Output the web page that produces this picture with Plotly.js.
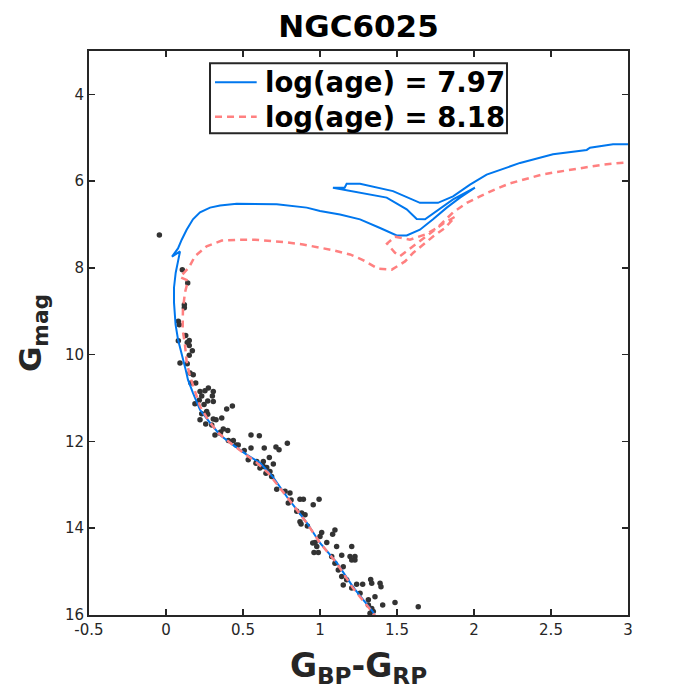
<!DOCTYPE html>
<html>
<head>
<meta charset="utf-8">
<script src="https://cdn.plot.ly/plotly-3.0.1.min.js"></script>
<style>html,body{margin:0;padding:0;background:#fff;}#chart{width:694px;height:694px;}</style>
</head>
<body>
<div id="chart"></div>
<script>
// Isochrone log(age) = 7.97
const blueX = [1.36,1.344,1.214,1.110,1.0,0.916,0.786,0.695,0.610,0.526,0.435,0.351,0.286,0.221,0.175,0.143,0.128,0.110,0.091,0.078,0.062,0.052,0.052,0.063,0.078,0.091,0.039,0.078,0.102,0.134,0.175,0.221,0.286,0.351,0.459,0.719,0.914,1.0,1.130,1.260,1.390,1.498,1.563,1.649,1.734,1.823,1.909,2.006,1.864,1.758,1.682,1.628,1.563,1.433,1.214,1.084,1.160,1.173,1.260,1.474,1.649,1.766,1.864,1.974,2.082,2.299,2.513,2.732,2.753,2.903,3.0];
const blueY = [16.05,15.93,15.35,14.80,14.34,13.88,13.28,12.82,12.49,12.31,12.08,11.85,11.57,11.27,10.88,10.58,10.35,10.12,9.88,9.65,9.30,8.80,8.45,8.11,7.85,7.62,7.74,7.55,7.35,7.12,6.88,6.72,6.61,6.56,6.52,6.53,6.61,6.69,6.77,6.88,7.08,7.25,7.25,7.12,6.88,6.61,6.38,6.15,6.42,6.69,6.88,6.87,6.65,6.38,6.23,6.15,6.15,6.06,6.06,6.23,6.50,6.50,6.35,6.08,5.85,5.58,5.38,5.28,5.23,5.15,5.15];
// Isochrone log(age) = 8.18
const redX = [1.37,1.344,1.214,1.108,1.0,0.914,0.784,0.662,0.589,0.500,0.416,0.338,0.273,0.221,0.188,0.156,0.134,0.123,0.108,0.110,0.123,0.143,0.091,0.149,0.188,0.264,0.362,0.468,0.578,0.686,0.784,0.890,0.979,1.084,1.195,1.279,1.377,1.466,1.552,1.606,1.671,1.736,1.812,1.877,1.799,1.714,1.617,1.519,1.487,1.435,1.487,1.584,1.682,1.760,1.864,1.953,2.039,2.136,2.234,2.331,2.440,2.537,2.634,2.740,2.838,2.948,3.0];
const redY = [16.1,15.95,15.38,14.80,14.34,13.88,13.27,12.72,12.49,12.26,12.03,11.80,11.50,11.19,10.85,10.50,10.16,9.77,9.42,8.96,8.57,8.29,8.21,7.99,7.73,7.50,7.37,7.35,7.35,7.38,7.41,7.46,7.52,7.59,7.69,7.82,8.02,8.04,7.85,7.65,7.46,7.27,7.08,6.82,6.98,7.21,7.46,7.73,7.65,7.44,7.28,7.35,7.23,7.08,6.72,6.50,6.35,6.19,6.05,5.95,5.85,5.79,5.73,5.67,5.62,5.58,5.57];
// Cluster members
const starX = [-0.043,0.106,0.141,0.119,0.119,0.080,0.086,0.128,0.080,0.151,0.138,0.151,0.171,0.151,0.091,0.138,0.156,0.177,0.162,0.193,0.221,0.253,0.275,0.307,0.301,0.232,0.216,0.271,0.307,0.188,0.247,0.394,0.431,0.264,0.232,0.271,0.221,0.307,0.325,0.362,0.258,0.297,0.372,0.401,0.355,0.318,0.552,0.606,0.405,0.437,0.455,0.469,0.552,0.638,0.714,0.734,0.788,0.508,0.534,0.584,0.632,0.671,0.697,0.632,0.654,0.610,0.675,0.649,0.686,0.351,0.589,0.719,0.773,0.805,0.870,0.892,0.994,0.956,0.794,0.812,0.849,0.881,0.903,0.870,0.877,0.918,1.097,1.082,1.011,1.0,0.968,0.953,1.044,0.979,1.108,1.206,0.961,0.989,1.141,1.195,1.227,1.206,1.227,1.076,1.097,1.151,1.119,1.141,1.173,1.151,1.238,1.277,1.329,1.336,1.390,1.396,1.206,1.260,1.314,1.357,1.407,1.487,1.638,1.314,1.336,1.346,1.325];
const starY = [7.24,8.04,8.35,8.85,8.92,9.23,9.31,9.56,9.68,9.67,9.72,9.79,9.91,10.01,10.19,10.21,10.42,10.46,10.65,10.65,10.85,10.83,10.77,10.85,10.95,10.95,11.05,11.07,11.08,11.13,11.15,11.25,11.18,11.31,11.36,11.37,11.50,11.48,11.50,11.46,11.60,11.62,11.71,11.75,11.78,11.85,11.85,11.87,11.98,11.98,12.08,12.08,12.15,12.15,12.13,12.19,12.04,12.21,12.42,12.50,12.46,12.37,12.52,12.58,12.60,12.61,12.69,12.73,12.81,11.81,12.46,13.10,13.15,13.19,13.33,13.33,13.33,13.46,13.42,13.35,13.61,13.65,13.69,13.85,13.90,13.95,14.04,14.14,14.10,14.19,14.33,14.34,14.33,14.42,14.42,14.42,14.56,14.56,14.62,14.65,14.65,14.73,14.73,14.65,14.81,14.89,14.96,15.11,15.19,15.31,15.29,15.29,15.18,15.27,15.27,15.35,15.38,15.50,15.65,15.58,15.77,15.71,15.81,15.77,15.85,15.92,15.96];
const xTicks = [-0.5,0,0.5,1,1.5,2,2.5,3];
const yTicks = [4,6,8,10,12,14,16];
const labelBlue = 'log(age) = 7.97';
const labelRed = 'log(age) = 8.18';

const axCol = '#262626';
const blueCol = '#0077EE';
const redCol = '#FF8080';
const redDash = '7px,5px';
const traces = [
  {x: starX, y: starY, type: 'scatter', mode: 'markers', showlegend: false,
   marker: {color: '#333333', size: 5.5}},
  {x: blueX, y: blueY, type: 'scatter', mode: 'lines', name: labelBlue, showlegend: false,
   line: {color: blueCol, width: 2}},
  {x: redX, y: redY, type: 'scatter', mode: 'lines', name: labelRed, showlegend: false,
   line: {color: redCol, width: 2.5, dash: redDash}}
];
// legend box (drawn in plot-area paper coordinates)
const legFont = {family: 'DejaVu Sans', size: 27.5, color: '#000', weight: 'bold'};
const shapes = [
  {type: 'rect', xref: 'paper', yref: 'paper', x0: 0.2245, x1: 0.7755, y0: 0.8541, y1: 0.9782,
   fillcolor: '#fff', line: {color: axCol, width: 2}, layer: 'above'},
  {type: 'line', xref: 'paper', yref: 'paper', x0: 0.2338, x1: 0.3111, y0: 0.9445, y1: 0.9445,
   line: {color: blueCol, width: 2}, layer: 'above'},
  {type: 'line', xref: 'paper', yref: 'paper', x0: 0.2338, x1: 0.3111, y0: 0.8835, y1: 0.8835,
   line: {color: redCol, width: 2.5, dash: redDash}, layer: 'above'}
];
const annotations = [
  {xref: 'paper', yref: 'paper', x: 0.3234, y: 0.9445, xanchor: 'left', yanchor: 'middle',
   text: labelBlue, showarrow: false, font: legFont},
  {xref: 'paper', yref: 'paper', x: 0.3234, y: 0.8835, xanchor: 'left', yanchor: 'middle',
   text: labelRed, showarrow: false, font: legFont}
];
const layout = {
  width: 694, height: 694,
  margin: {l: 89, r: 66, t: 51, b: 79},
  paper_bgcolor: '#fff', plot_bgcolor: '#fff',
  showlegend: false,
  shapes: shapes,
  annotations: annotations,
  title: {text: 'NGC6025', xref: 'paper', x: 0.5, xanchor: 'center', y: 0.962, yanchor: 'middle',
          font: {family: 'DejaVu Sans', size: 31, color: '#000', weight: 'bold'}},
  xaxis: {range: [-0.5, 3], tickvals: xTicks, ticktext: xTicks.map(String),
          showgrid: false, zeroline: false, showline: true, mirror: 'ticks',
          linecolor: axCol, linewidth: 2, ticks: 'inside', ticklen: 6, tickwidth: 1.5, tickcolor: axCol,
          tickfont: {family: 'DejaVu Sans', size: 15, color: axCol},
          title: {text: 'G<sub>BP</sub>-G<sub>RP</sub>', standoff: 16,
                  font: {family: 'DejaVu Sans', size: 33, color: axCol, weight: 'bold'}}},
  yaxis: {range: [16, 3], tickvals: yTicks, ticktext: yTicks.map(String),
          showgrid: false, zeroline: false, showline: true, mirror: 'ticks',
          linecolor: axCol, linewidth: 2, ticks: 'inside', ticklen: 6, tickwidth: 1.5, tickcolor: axCol,
          tickfont: {family: 'DejaVu Sans', size: 15, color: axCol},
          title: {text: 'G<sub>mag</sub>', standoff: 14,
                  font: {family: 'DejaVu Sans', size: 31, color: axCol, weight: 'bold'}}}
};
Plotly.newPlot('chart', traces, layout, {displayModeBar: false, staticPlot: true});
</script>
</body>
</html>
